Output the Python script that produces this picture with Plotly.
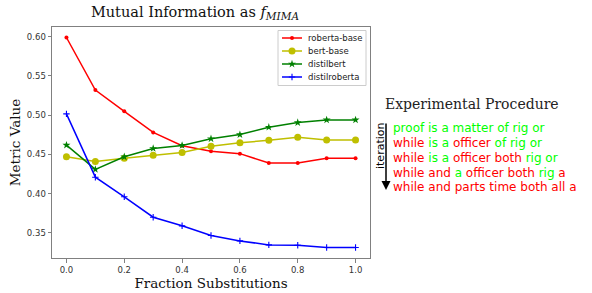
import plotly.graph_objects as go

fractions = [0.0, 0.1, 0.2, 0.3, 0.4, 0.5, 0.6, 0.7, 0.8, 0.9, 1.0]
roberta_base = [0.599, 0.532, 0.505, 0.478, 0.461, 0.454, 0.451, 0.439, 0.439, 0.445, 0.445]
bert_base = [0.447, 0.441, 0.445, 0.449, 0.4525, 0.4605, 0.4648, 0.468, 0.472, 0.4685, 0.4685]
distilbert = [0.4618, 0.431, 0.447, 0.4576, 0.4615, 0.470, 0.4753, 0.4847, 0.4906, 0.494, 0.494]
distilroberta = [0.5017, 0.421, 0.396, 0.370, 0.359, 0.3466, 0.3398, 0.3347, 0.3343, 0.3314, 0.3314]

series_names = ["roberta-base", "bert-base", "distilbert", "distilroberta"]
x_ticks = [0.0, 0.2, 0.4, 0.6, 0.8, 1.0]
y_ticks = [0.35, 0.40, 0.45, 0.50, 0.55, 0.60]

RED = "#ff0000"
LIME = "#00ff00"
procedure_lines = [
    [("proof is a matter of rig or", LIME)],
    [("while", RED), (" is a ", LIME), ("officer", RED), (" of rig or", LIME)],
    [("while", RED), (" is a ", LIME), ("officer both", RED), (" rig or", LIME)],
    [("while and", RED), (" a ", LIME), ("officer both", RED), (" rig", LIME), (" a", RED)],
    [("while and parts time both all a", RED)],
]

W, H = 592, 293
L, R, T, B = 52, 370, 27, 258  # plot area in pixels


def px(xp):
    return (xp - L) / (R - L)


def py(yp):
    return (B - yp) / (B - T)


colors = [RED, "#bfbf00", "#008000", "#0000ff"]
markers = [
    dict(symbol="circle", size=4, color=RED),
    dict(symbol="circle", size=7, color="#bfbf00"),
    dict(symbol="star", size=6, color="#008000"),
    dict(symbol="cross-thin", size=4.6, color="#0000ff", line=dict(color="#0000ff", width=1.1)),
]
values = [roberta_base, bert_base, distilbert, distilroberta]

fig = go.Figure()
for name, vals, col, mk in zip(series_names, values, colors, markers):
    fig.add_trace(go.Scatter(x=fractions, y=vals, mode="lines+markers", name=name,
                             line=dict(color=col, width=1.5), marker=mk, showlegend=False))

# compact legend (matplotlib style) drawn on a pixel-space overlay axis
leg_y = [38, 51, 64, 77]
for name, col, mk, yv in zip(series_names, colors, markers, leg_y):
    fig.add_trace(go.Scatter(x=[282, 302], y=[yv, yv], mode="lines", xaxis="x2", yaxis="y2",
                             line=dict(color=col, width=1.5), showlegend=False, hoverinfo="skip"))
    fig.add_trace(go.Scatter(x=[292], y=[yv], mode="markers", xaxis="x2", yaxis="y2",
                             marker=mk, showlegend=False, hoverinfo="skip"))

axis_common = dict(showgrid=False, zeroline=False, showline=True, linecolor="#808080",
                   linewidth=1, mirror=True, ticks="outside", ticklen=3.5, tickwidth=1,
                   tickcolor="#808080", automargin=False,
                   tickfont=dict(family="DejaVu Sans", size=8.5, color="#333333"))

fig.update_layout(
    width=W, height=H,
    margin=dict(l=L, r=W - R, t=T, b=H - B, pad=0, autoexpand=False),
    paper_bgcolor="white", plot_bgcolor="white",
    showlegend=False,
    title=dict(text='Mutual Information as <i>f</i><sub><i><span style="font-size:10.5px">MIMA</span></i></sub>',
               font=dict(family="DejaVu Serif", size=14.5, color="#111111"),
               x=195 / W, xanchor="center", xref="container",
               y=1 - 12 / H, yanchor="middle", yref="container"),
    xaxis=dict(range=[-0.05, 1.05], tickvals=x_ticks, tickformat=".1f",
               title=dict(text="Fraction Substitutions",
                          font=dict(family="DejaVu Serif", size=13.5, color="#111111"),
                          standoff=4),
               **axis_common),
    yaxis=dict(range=[0.318, 0.6124], tickvals=y_ticks, tickformat=".2f",
               title=dict(text="Metric Value",
                          font=dict(family="DejaVu Serif", size=13.5, color="#111111"),
                          standoff=3),
               **axis_common),
    xaxis2=dict(overlaying="x", range=[L, R], visible=False, domain=[0, 1], fixedrange=True),
    yaxis2=dict(overlaying="y", range=[B, T], visible=False, domain=[0, 1], fixedrange=True),
)

shapes = [dict(type="rect", xref="x2", yref="y2", x0=278, x1=366, y0=30.5, y1=85.5,
               line=dict(color="#cccccc", width=1), fillcolor="white", layer="below")]
fig.update_layout(shapes=shapes)

annotations = []
for name, yv in zip(series_names, leg_y):
    annotations.append(dict(text=name, x=306, y=yv, xref="x2", yref="y2", xanchor="left",
                            yanchor="middle", showarrow=False,
                            font=dict(family="DejaVu Sans", size=8.5, color="#222222")))
annotations.append(dict(text="Experimental Procedure", x=px(383), y=py(104),
                        xref="paper", yref="paper", xanchor="left", yanchor="middle",
                        showarrow=False,
                        font=dict(family="DejaVu Serif", size=14, color="#222222")))
line_y = [128.2, 142.5, 158.4, 173.0, 187.4]
for segs, yv in zip(procedure_lines, line_y):
    txt = "".join(f'<span style="color:{c}">{t}</span>' for t, c in segs)
    annotations.append(dict(text=txt, x=px(391), y=py(yv), xref="paper", yref="paper",
                            xanchor="left", yanchor="middle", showarrow=False,
                            font=dict(family="DejaVu Sans", size=12)))
annotations.append(dict(text="iteration", x=px(380), y=py(146), xref="paper", yref="paper",
                        xanchor="center", yanchor="middle", textangle=-90, showarrow=False,
                        font=dict(family="DejaVu Sans", size=11, color="black")))
annotations.append(dict(text="", x=px(386), y=py(190), xref="paper", yref="paper",
                        ax=0, ay=-68, showarrow=True, arrowhead=2, arrowsize=1.2,
                        arrowwidth=1.5, arrowcolor="black"))
fig.update_layout(annotations=annotations)

fig.write_html("out.html", config={"displayModeBar": False},
               post_script="document.body.style.margin='0';")
